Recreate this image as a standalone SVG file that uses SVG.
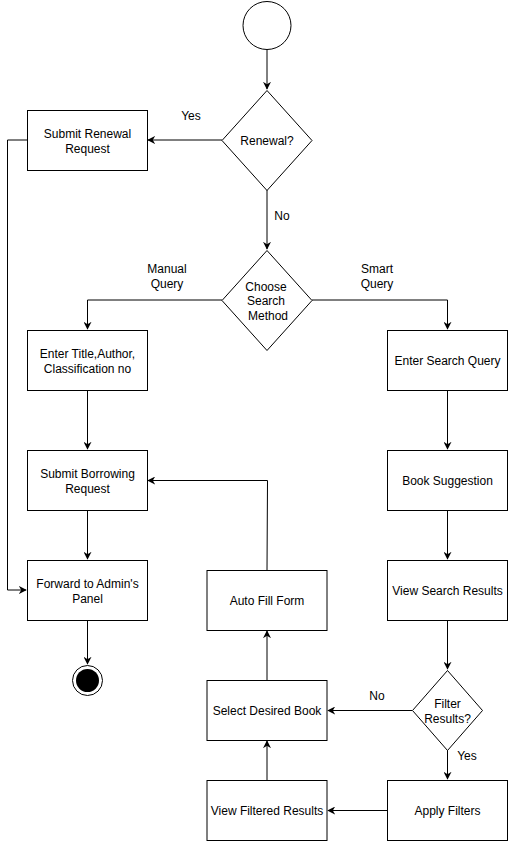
<svg xmlns="http://www.w3.org/2000/svg" width="508" height="841" viewBox="0 0 508 841">
<style>
.n{fill:#fff;stroke:#000;stroke-width:1}
.t{font-family:"Liberation Sans",Arial,sans-serif;font-size:12px;fill:#000;text-anchor:middle}
.e{fill:none;stroke:#000;stroke-width:1}
</style>
<defs>
<marker id="a" viewBox="0 0 10 10" refX="9" refY="5" markerWidth="8" markerHeight="8" markerUnits="userSpaceOnUse" orient="auto">
<path d="M0,0 L10,5 L0,10 L3,5 z" fill="#000"/>
</marker>
</defs>
<rect width="508" height="841" fill="#fff"/>
<g id="connectors">
<path class="e" d="M267,50 V89" marker-end="url(#a)"/>
<path class="e" d="M222,140 H148" marker-end="url(#a)"/>
<path class="e" d="M267,190 V249" marker-end="url(#a)"/>
<path class="e" d="M27,140 H7.5 V590 H26" marker-end="url(#a)"/>
<path class="e" d="M222,300 H87.5 V329" marker-end="url(#a)"/>
<path class="e" d="M312,300 H447.5 V329" marker-end="url(#a)"/>
<path class="e" d="M87.5,390 V449" marker-end="url(#a)"/>
<path class="e" d="M87.5,510 V559" marker-end="url(#a)"/>
<path class="e" d="M87.5,620 V664" marker-end="url(#a)"/>
<path class="e" d="M447.5,390 V449" marker-end="url(#a)"/>
<path class="e" d="M447.5,510 V559" marker-end="url(#a)"/>
<path class="e" d="M447.5,620 V669" marker-end="url(#a)"/>
<path class="e" d="M412,710.5 H328" marker-end="url(#a)"/>
<path class="e" d="M447.5,750 V779" marker-end="url(#a)"/>
<path class="e" d="M387,810.5 H328" marker-end="url(#a)"/>
<path class="e" d="M267,780 V741" marker-end="url(#a)"/>
<path class="e" d="M267,680 V631" marker-end="url(#a)"/>
<path class="e" d="M267,570 L267.5,480.5 H148" marker-end="url(#a)"/>
<text class="t" x="191" y="120">Yes</text>
<text class="t" x="282" y="220">No</text>
<text class="t" x="167" y="273">Manual</text>
<text class="t" x="167" y="288">Query</text>
<text class="t" x="377" y="273">Smart</text>
<text class="t" x="377" y="288">Query</text>
<text class="t" x="377" y="700">No</text>
<text class="t" x="467" y="760">Yes</text>
</g>
<g id="start"><circle class="n" cx="267" cy="25.5" r="24"/></g>
<g id="renewal"><path class="n" d="M267,90.5 L312,140.5 L267,190.5 L222,140.5 Z"/><text class="t" x="267" y="145">Renewal?</text></g>
<g id="submitRenewal"><rect class="n" x="27.5" y="110.5" width="120" height="60"/><text class="t" x="87.5" y="138">Submit Renewal</text><text class="t" x="87.5" y="153">Request</text></g>
<g id="choose"><path class="n" d="M267,250.5 L312,300.5 L267,350.5 L222,300.5 Z"/><text class="t" x="266" y="291">Choose</text><text class="t" x="266" y="305">Search</text><text class="t" x="268" y="320">Method</text></g>
<g id="enterTitle"><rect class="n" x="27.5" y="330.5" width="120" height="60"/><text class="t" x="87.5" y="358">Enter Title,Author,</text><text class="t" x="87.5" y="373">Classification no</text></g>
<g id="enterSearch"><rect class="n" x="387.5" y="330.5" width="120" height="60"/><text class="t" x="447.5" y="365">Enter Search Query</text></g>
<g id="submitBorrow"><rect class="n" x="27.5" y="450.5" width="120" height="60"/><text class="t" x="87.5" y="478">Submit Borrowing</text><text class="t" x="87.5" y="493">Request</text></g>
<g id="bookSuggestion"><rect class="n" x="387.5" y="450.5" width="120" height="60"/><text class="t" x="447.5" y="485">Book Suggestion</text></g>
<g id="forward"><rect class="n" x="27.5" y="560.5" width="120" height="60"/><text class="t" x="87.5" y="588">Forward to Admin's</text><text class="t" x="87.5" y="603">Panel</text></g>
<g id="viewSearch"><rect class="n" x="387.5" y="560.5" width="120" height="60"/><text class="t" x="447.5" y="595">View Search Results</text></g>
<g id="end"><circle class="n" cx="87.5" cy="680.5" r="15"/><circle cx="87.5" cy="680.5" r="11.5" fill="#000"/></g>
<g id="autoFill"><rect class="n" x="207" y="570.5" width="120" height="60"/><text class="t" x="267" y="605">Auto Fill Form</text></g>
<g id="selectBook"><rect class="n" x="207" y="680.5" width="120" height="60"/><text class="t" x="267" y="715">Select Desired Book</text></g>
<g id="filter"><path class="n" d="M447.5,670.5 L482.5,710.5 L447.5,750.5 L412.5,710.5 Z"/><text class="t" x="447.5" y="708">Filter</text><text class="t" x="447.5" y="723">Results?</text></g>
<g id="viewFiltered"><rect class="n" x="207" y="780.5" width="120" height="60"/><text class="t" x="267" y="815">View Filtered Results</text></g>
<g id="applyFilters"><rect class="n" x="387.5" y="780.5" width="120" height="60"/><text class="t" x="447.5" y="815">Apply Filters</text></g>
</svg>
